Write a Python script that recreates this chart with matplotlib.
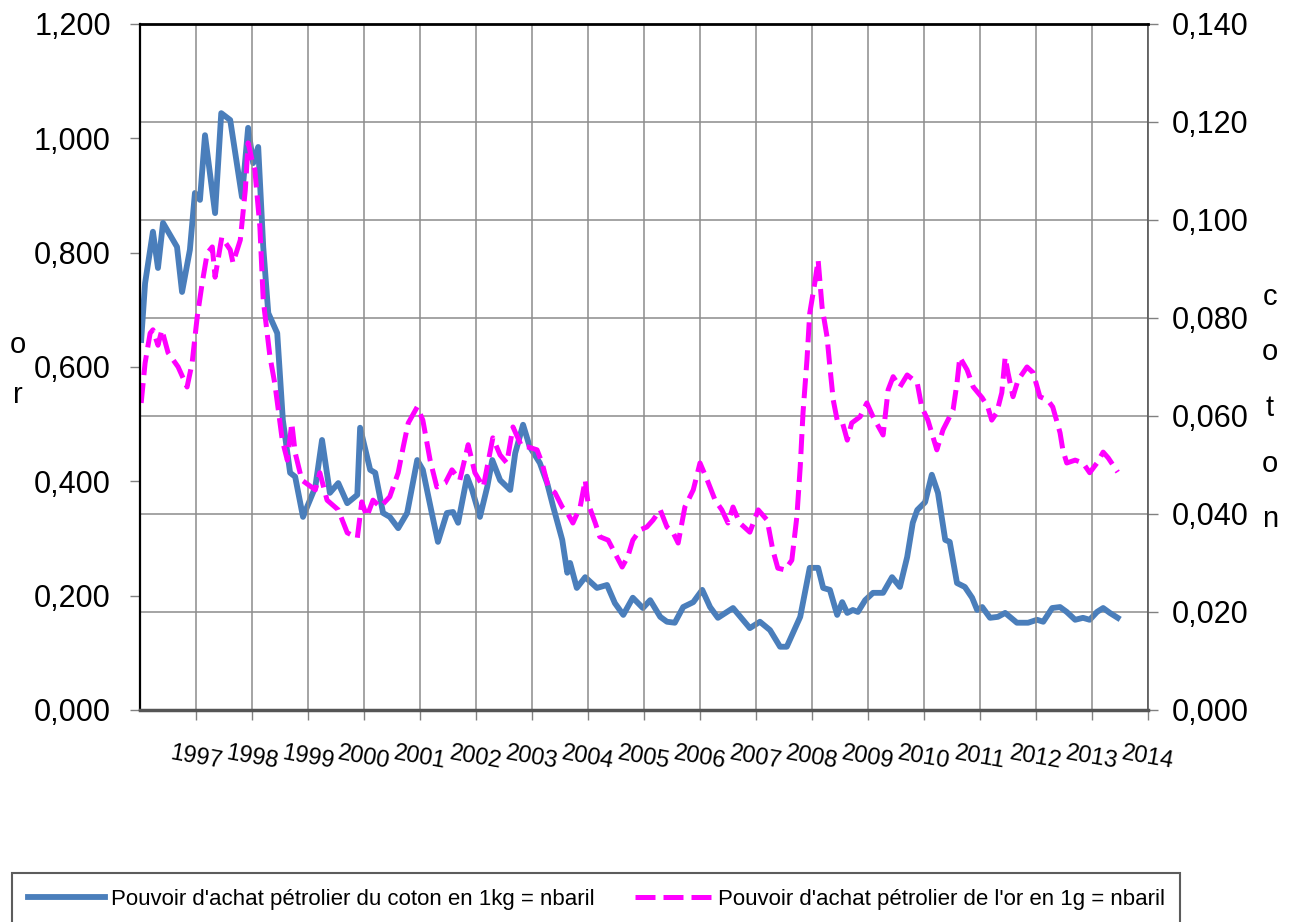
import matplotlib
matplotlib.use("Agg")
import matplotlib.pyplot as plt
import matplotlib.transforms as mtransforms
from matplotlib.ticker import FuncFormatter, MultipleLocator

plt.rcParams['font.family'] = ['Liberation Sans', 'DejaVu Sans']

# cotton purchasing power in oil (barrels per kg) -> right axis
coton_t = [1996.02, 1996.09, 1996.23, 1996.32, 1996.41, 1996.66, 1996.75, 1996.89, 1996.98, 1997.07,
           1997.16, 1997.34, 1997.45, 1997.61, 1997.82, 1997.93, 1998.02, 1998.11, 1998.20, 1998.29,
           1998.45, 1998.55, 1998.68, 1998.77, 1998.91, 1999.13, 1999.25, 1999.39, 1999.54, 1999.70,
           1999.88, 1999.93, 2000.11, 2000.20, 2000.34, 2000.46, 2000.61, 2000.77, 2000.95, 2001.05,
           2001.21, 2001.32, 2001.48, 2001.59, 2001.68, 2001.84, 2001.93, 2002.07, 2002.20, 2002.29,
           2002.43, 2002.61, 2002.70, 2002.84, 2002.96, 2003.14, 2003.27, 2003.38, 2003.54, 2003.63,
           2003.68, 2003.80, 2003.95, 2004.16, 2004.34, 2004.48, 2004.63, 2004.80, 2004.98, 2005.11,
           2005.29, 2005.41, 2005.55, 2005.70, 2005.88, 2006.04, 2006.18, 2006.32, 2006.59, 2006.89,
           2007.07, 2007.25, 2007.43, 2007.55, 2007.79, 2007.96, 2008.11, 2008.20, 2008.32, 2008.45,
           2008.54, 2008.63, 2008.73, 2008.82, 2008.95, 2009.09, 2009.27, 2009.43, 2009.57, 2009.70,
           2009.80, 2009.88, 2010.02, 2010.14, 2010.25, 2010.38, 2010.46, 2010.59, 2010.73, 2010.86,
           2010.95, 2011.04, 2011.18, 2011.32, 2011.45, 2011.66, 2011.86, 2012.02, 2012.13, 2012.29,
           2012.43, 2012.55, 2012.70, 2012.84, 2012.96, 2013.09, 2013.20, 2013.32, 2013.46]
coton_v = [0.0755, 0.0871, 0.0976, 0.0902, 0.0994, 0.0945, 0.0853, 0.0939, 0.1055, 0.1041,
           0.1173, 0.1014, 0.1218, 0.1204, 0.1047, 0.1188, 0.1116, 0.1149, 0.0945, 0.0810,
           0.0769, 0.0592, 0.0484, 0.0476, 0.0394, 0.0455, 0.0551, 0.0443, 0.0463, 0.0422,
           0.0439, 0.0576, 0.0490, 0.0484, 0.0402, 0.0394, 0.0371, 0.0402, 0.0510, 0.0490,
           0.0402, 0.0343, 0.0402, 0.0404, 0.0382, 0.0476, 0.0449, 0.0394, 0.0455, 0.0510,
           0.0469, 0.0449, 0.0524, 0.0582, 0.0537, 0.0504, 0.0463, 0.0414, 0.0347, 0.0280,
           0.0300, 0.0249, 0.0271, 0.0249, 0.0255, 0.0218, 0.0194, 0.0229, 0.0208, 0.0224,
           0.0190, 0.0180, 0.0178, 0.0210, 0.0220, 0.0245, 0.0210, 0.0188, 0.0208, 0.0167,
           0.0180, 0.0163, 0.0129, 0.0129, 0.0190, 0.0290, 0.0290, 0.0249, 0.0245, 0.0194,
           0.0220, 0.0198, 0.0204, 0.0200, 0.0224, 0.0239, 0.0239, 0.0271, 0.0251, 0.0312,
           0.0382, 0.0408, 0.0424, 0.0480, 0.0443, 0.0347, 0.0343, 0.0259, 0.0251, 0.0229,
           0.0204, 0.0210, 0.0188, 0.0190, 0.0198, 0.0178, 0.0178, 0.0184, 0.0180, 0.0208,
           0.0210, 0.0200, 0.0184, 0.0188, 0.0184, 0.0200, 0.0208, 0.0198, 0.0188]

# gold purchasing power in oil (barrels per g) -> left axis
or_t = [1996.02, 1996.09, 1996.18, 1996.23, 1996.32, 1996.39, 1996.50, 1996.68, 1996.84, 1996.93,
        1997.02, 1997.11, 1997.20, 1997.29, 1997.34, 1997.46, 1997.61, 1997.66, 1997.79, 1997.88,
        1997.93, 1998.00, 1998.05, 1998.14, 1998.20, 1998.32, 1998.41, 1998.54, 1998.63, 1998.71,
        1998.77, 1998.89, 1999.13, 1999.21, 1999.34, 1999.54, 1999.70, 1999.88, 1999.96, 2000.05,
        2000.16, 2000.29, 2000.46, 2000.61, 2000.70, 2000.79, 2000.95, 2001.05, 2001.18, 2001.30,
        2001.45, 2001.57, 2001.71, 2001.86, 2001.98, 2002.13, 2002.30, 2002.43, 2002.55, 2002.66,
        2002.82, 2002.93, 2003.09, 2003.18, 2003.29, 2003.41, 2003.54, 2003.63, 2003.73, 2003.86,
        2003.95, 2004.00, 2004.13, 2004.21, 2004.36, 2004.45, 2004.61, 2004.71, 2004.80, 2004.93,
        2005.05, 2005.16, 2005.29, 2005.41, 2005.52, 2005.61, 2005.73, 2005.88, 2006.00, 2006.13,
        2006.27, 2006.39, 2006.50, 2006.59, 2006.71, 2006.89, 2007.04, 2007.20, 2007.30, 2007.39,
        2007.52, 2007.64, 2007.73, 2007.79, 2007.84, 2007.91, 2007.96, 2008.05, 2008.11, 2008.18,
        2008.27, 2008.32, 2008.38, 2008.45, 2008.54, 2008.63, 2008.71, 2008.86, 2008.98, 2009.09,
        2009.27, 2009.36, 2009.45, 2009.57, 2009.70, 2009.88, 2009.96, 2010.07, 2010.23, 2010.34,
        2010.52, 2010.59, 2010.64, 2010.77, 2010.88, 2011.04, 2011.14, 2011.21, 2011.30, 2011.39,
        2011.45, 2011.50, 2011.59, 2011.68, 2011.84, 2011.95, 2012.07, 2012.21, 2012.30, 2012.43,
        2012.48, 2012.55, 2012.70, 2012.84, 2012.96, 2013.09, 2013.20, 2013.29, 2013.46]
or_v = [0.537, 0.607, 0.659, 0.665, 0.638, 0.665, 0.625, 0.600, 0.565, 0.607,
        0.687, 0.747, 0.799, 0.810, 0.757, 0.827, 0.805, 0.782, 0.822, 0.910,
        0.992, 0.962, 0.945, 0.845, 0.717, 0.618, 0.569, 0.472, 0.437, 0.502,
        0.450, 0.402, 0.385, 0.415, 0.367, 0.350, 0.310, 0.301, 0.364, 0.338,
        0.367, 0.355, 0.373, 0.415, 0.460, 0.502, 0.530, 0.507, 0.437, 0.390,
        0.397, 0.420, 0.402, 0.464, 0.415, 0.390, 0.476, 0.446, 0.432, 0.495,
        0.460, 0.460, 0.455, 0.432, 0.390, 0.380, 0.355, 0.345, 0.327, 0.355,
        0.402, 0.362, 0.327, 0.303, 0.297, 0.280, 0.250, 0.268, 0.297, 0.315,
        0.320, 0.332, 0.350, 0.320, 0.310, 0.292, 0.355, 0.385, 0.432, 0.402,
        0.367, 0.350, 0.327, 0.355, 0.327, 0.311, 0.350, 0.332, 0.280, 0.248,
        0.245, 0.262, 0.338, 0.425, 0.520, 0.612, 0.694, 0.747, 0.787, 0.705,
        0.652, 0.600, 0.542, 0.507, 0.504, 0.472, 0.502, 0.513, 0.537, 0.513,
        0.481, 0.560, 0.583, 0.565, 0.586, 0.572, 0.530, 0.507, 0.455, 0.490,
        0.525, 0.572, 0.617, 0.595, 0.565, 0.546, 0.530, 0.507, 0.520, 0.555,
        0.617, 0.590, 0.548, 0.577, 0.600, 0.590, 0.548, 0.542, 0.530, 0.485,
        0.455, 0.432, 0.437, 0.432, 0.415, 0.432, 0.451, 0.441, 0.416]

years = list(range(1997, 2015))
label_coton = "Pouvoir d'achat pétrolier du coton en 1kg = nbaril"
label_or = "Pouvoir d'achat pétrolier de l'or en 1g = nbaril"


def comma_fmt(v, pos):
    return f"{v:.3f}".replace('.', ',')


fig = plt.figure(figsize=(12.92, 9.22), dpi=100)
ax = fig.add_axes([0.1084, 0.23, 0.7801, 0.744])
ax2 = ax.twinx()
# gold line drawn above the cotton line
ax.set_zorder(ax2.get_zorder() + 1)
ax.patch.set_visible(False)

l1, = ax2.plot(coton_t, coton_v, color='#4A7EBB', lw=4.2, solid_joinstyle='round', label=label_coton)
l2, = ax.plot(or_t, or_v, color='#FF00FF', lw=3.6, dashes=(4, 1.6), label=label_or)

ax.set_xlim(1996, 2014)
ax.set_ylim(0, 1.2)
ax2.set_ylim(0, 0.14)

ax.yaxis.set_major_locator(MultipleLocator(0.2))
ax2.yaxis.set_major_locator(MultipleLocator(0.02))
ax.yaxis.set_major_formatter(FuncFormatter(comma_fmt))
ax2.yaxis.set_major_formatter(FuncFormatter(comma_fmt))

ax.set_xticks(years)
ax.set_xticklabels([str(y) for y in years], rotation=-10, ha='center')
offset = mtransforms.ScaledTranslation(-6 / 100, 0, fig.dpi_scale_trans)
for lbl in ax.get_xticklabels():
    lbl.set_transform(lbl.get_transform() + offset)

ax.grid(axis='x', color='#8c8c8c', lw=1.1)
ax2.grid(axis='y', color='#8c8c8c', lw=1.1)

ax.tick_params(axis='y', direction='out', length=7, width=1, color='#808080', labelsize=22, pad=14)
ax.tick_params(axis='x', direction='out', length=7, width=1, color='#808080', labelsize=17, pad=16)
ax2.tick_params(axis='y', direction='out', length=7, width=1, color='#808080', labelsize=22, pad=10)

for s in ax2.spines.values():
    s.set_visible(False)
ax.spines['left'].set_color('black')
ax.spines['left'].set_linewidth(1.6)
ax.spines['top'].set_color('black')
ax.spines['top'].set_linewidth(2)
ax.spines['bottom'].set_color('#555555')
ax.spines['bottom'].set_linewidth(2.5)
ax.spines['right'].set_color('#555555')
ax.spines['right'].set_linewidth(1.2)

# vertical axis titles, one letter per line
for i, ch in enumerate("or"):
    fig.text(18 / 1292, 1 - (345 + 50 * i) / 922, ch, fontsize=21, ha='center', va='center')
for i, ch in enumerate("coton"):
    fig.text(1270 / 1292, 1 - (297 + 55.5 * i) / 922, ch, fontsize=21, ha='center', va='center')

leg = fig.legend(handles=[l1, l2], loc='upper left', ncol=2,
                 bbox_to_anchor=(12 / 1292, 0.0531),
                 borderaxespad=0, borderpad=0.7, fontsize=16, handlelength=3.5,
                 handletextpad=0.25, columnspacing=1.8, frameon=True, fancybox=False)
leg.get_frame().set_edgecolor('#333333')
leg.get_frame().set_linewidth(1.5)

fig.savefig('out.png', dpi=100)
